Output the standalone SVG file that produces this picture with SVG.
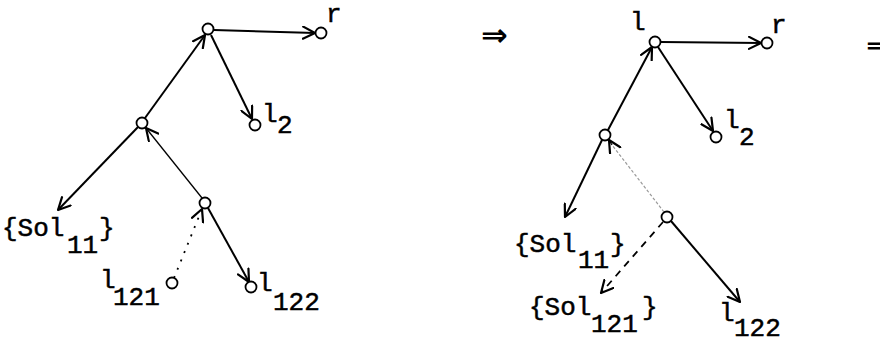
<svg xmlns="http://www.w3.org/2000/svg" width="880" height="344" viewBox="0 0 880 344">
<defs>
<marker id="ah" viewBox="0 0 14 14" refX="13" refY="7" markerWidth="14" markerHeight="14" markerUnits="userSpaceOnUse" orient="auto">
<path d="M1,1 L13,7 L1,13" fill="none" stroke="#000" stroke-width="2.2" stroke-linecap="round" stroke-linejoin="round"/>
</marker>
</defs>
<style>
.n{fill:#fff;stroke:#000;stroke-width:1.8}
.e{fill:none;stroke:#000;stroke-width:2;marker-end:url(#ah)}
.thin{stroke-width:1.3}
.dot{stroke-dasharray:2 7;stroke-width:1.8}
.dash{stroke-dasharray:7 6;stroke-width:1.8}
.faint{stroke:#999;stroke-width:1.2;stroke-dasharray:3 2}
.t{font-family:"Liberation Mono","Courier New",monospace;font-size:26px;fill:#000;stroke:#000;stroke-width:0.5}
.s{font-family:"DejaVu Sans",sans-serif;font-size:32px;font-weight:bold;fill:#000}
</style>
<g id="connectors">
<line class="e" x1="214" y1="30" x2="315" y2="33"/>
<line class="e" x1="211" y1="35" x2="252" y2="119"/>
<line class="e" x1="145" y1="118" x2="205" y2="35"/>
<line class="e" x1="138" y1="127" x2="58" y2="210"/>
<line class="e thin" x1="202" y1="198" x2="146" y2="128"/>
<line class="e dot" x1="174" y1="278" x2="202" y2="209"/>
<line class="e" x1="208" y1="208" x2="249" y2="282"/>
<line class="e" x1="661" y1="42" x2="761" y2="43"/>
<line class="e" x1="658" y1="47" x2="713" y2="131"/>
<line class="e" x1="608" y1="130" x2="652" y2="47"/>
<line class="e" x1="602" y1="140" x2="565" y2="217"/>
<line class="faint" x1="664" y1="212" x2="612" y2="145"/>
<line class="e" x1="612" y1="145" x2="609" y2="140" style="stroke-width:1.3"/>
<line class="e dash" x1="663" y1="222" x2="601" y2="293"/>
<line class="e" x1="671" y1="221" x2="740" y2="302"/>
</g>
<g id="left-A"><circle class="n" cx="208" cy="29" r="5.5"/></g>
<g id="left-r"><circle class="n" cx="321" cy="33" r="5.5"/><text class="t" x="326" y="22">r</text></g>
<g id="left-B"><circle class="n" cx="142" cy="123" r="5.5"/></g>
<g id="left-l2"><circle class="n" cx="255" cy="125" r="5.5"/><text class="t"><tspan x="262" y="122">l</tspan><tspan x="277" y="133">2</tspan></text></g>
<g id="left-C"><circle class="n" cx="205" cy="203" r="5.5"/></g>
<g id="left-sol11"><text class="t"><tspan x="2" y="236">{Sol</tspan><tspan x="67" y="253">11</tspan><tspan x="99" y="236">}</tspan></text></g>
<g id="left-l121"><circle class="n" cx="172" cy="283" r="5.5"/><text class="t"><tspan x="100" y="288">l</tspan><tspan x="113" y="305">121</tspan></text></g>
<g id="left-l122"><circle class="n" cx="251" cy="287" r="5.5"/><text class="t"><tspan x="257" y="291">l</tspan><tspan x="273" y="310">122</tspan></text></g>
<g id="implies1"><text class="s" x="481" y="46">⇒</text></g>
<g id="right-A"><circle class="n" cx="655" cy="42" r="5.5"/><text class="t" x="630" y="30">l</text></g>
<g id="right-r"><circle class="n" cx="767" cy="43" r="5.5"/><text class="t" x="771" y="33">r</text></g>
<g id="right-B"><circle class="n" cx="605" cy="135" r="5.5"/></g>
<g id="right-l2"><circle class="n" cx="716" cy="137" r="5.5"/><text class="t"><tspan x="724" y="128">l</tspan><tspan x="739" y="145">2</tspan></text></g>
<g id="right-C"><circle class="n" cx="667" cy="217" r="5.5"/></g>
<g id="right-sol11"><text class="t"><tspan x="514" y="252">{Sol</tspan><tspan x="578" y="268">11</tspan><tspan x="610" y="252">}</tspan></text></g>
<g id="right-sol121"><text class="t"><tspan x="529" y="315">{Sol</tspan><tspan x="591" y="332">121</tspan><tspan x="642" y="315">}</tspan></text></g>
<g id="right-l122"><text class="t"><tspan x="719" y="321">l</tspan><tspan x="734" y="336">122</tspan></text></g>
<g id="implies2"><text class="s" x="866" y="56">⇒</text></g>
</svg>
